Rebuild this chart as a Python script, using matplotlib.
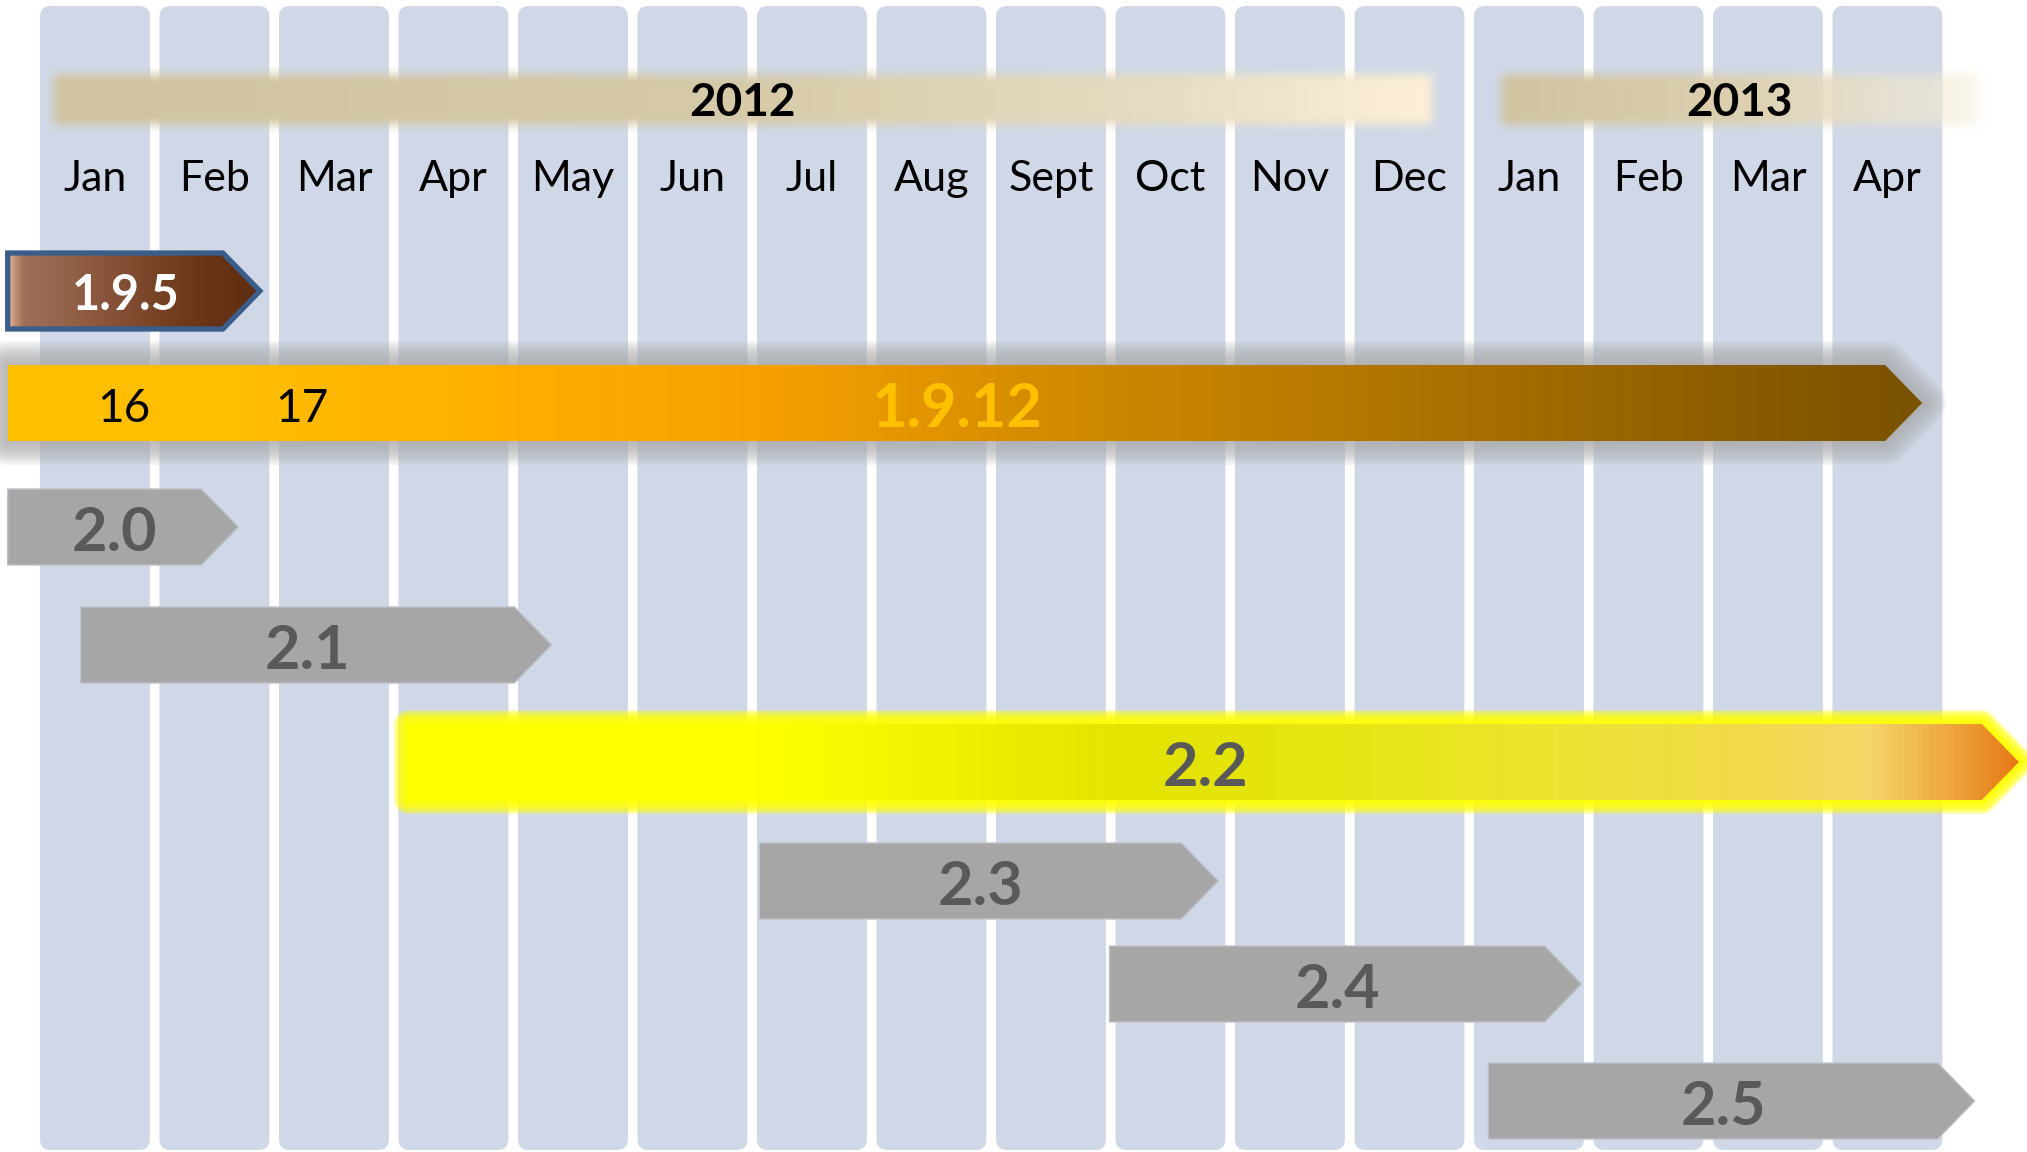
import numpy as np
import matplotlib.pyplot as plt
from matplotlib.patches import Polygon, FancyBboxPatch
from matplotlib.colors import LinearSegmentedColormap

plt.rcParams['font.family'] = ['Lato', 'DejaVu Sans']

# ---- data (x values in months, Jan 2012 column = 0..1) ----
months = ['Jan', 'Feb', 'Mar', 'Apr', 'May', 'Jun', 'Jul', 'Aug', 'Sept',
          'Oct', 'Nov', 'Dec', 'Jan', 'Feb', 'Mar', 'Apr']

years = ['2012', '2013']
year_start = [0.15, 12.27]
year_end = [11.69, 16.26]

releases = ['1.9.5', '1.9.12', '2.0', '2.1', '2.2', '2.3', '2.4', '2.5']
rel_start = [-0.23, -0.23, -0.23, 0.38, 3.12, 6.06, 8.99, 12.16]
rel_end = [1.88, 15.79, 1.70, 4.32, 16.60, 9.90, 12.94, 16.23]

minor_labels = ['16', '17']
minor_pos = [0.74, 2.23]

# ---- layout ----
W, H = 2027, 1152
PX = 119.5          # pixels per month
X0 = 35.2           # pixel of month 0
row_y = [291, 403, 527, 645, 762, 881, 984, 1101]
BAR_H = 76
TIP = 37 / PX
COL = '#d0d8e7'

gray = dict(stops=[(0, '#a6a6a6'), (1, '#a6a6a6')], text='#595959', fs=44)
styles = {
    '1.9.5': dict(stops=[(0, '#e2bea6'), (0.025, '#c49474'), (0.06, '#a2705a'),
                         (0.75, '#6a3618'), (1, '#5e2c10')],
                  text='white', fs=35, edge='#3b5d8a'),
    '1.9.12': dict(stops=[(0, '#ffc000'), (0.11, '#ffbf00'), (0.266, '#ffae00'),
                          (0.40, '#f5a000'), (0.536, '#d48c00'), (0.67, '#bc7c00'),
                          (0.806, '#a06a00'), (0.908, '#8a5c00'), (1, '#7a5200')],
                   text='#ffc000', fs=44, glow=('#a9a9a9', 24, 12, 0.11)),
    '2.2': dict(stops=[(0, '#ffff00'), (0.214, '#ffff00'), (0.446, '#e3e300'),
                       (0.606, '#e6e618'), (0.703, '#ece430'), (0.832, '#f2da4a'),
                       (0.909, '#f5d66a'), (0.957, '#eeaa40'), (1, '#e67a18')],
                text='#595959', fs=44, glow=('#ffff00', 14, 8, 0.3)),
}


def smooth(d, w):
    s = np.clip((d + w) / (2 * w), 0, 1)
    return s * s * (3 - 2 * s)


fig = plt.figure(figsize=(W / 100, H / 100), dpi=100)
ax = fig.add_axes([0, 0, 1, 1])
ax.axis('off')

# month columns
for i in range(len(months)):
    ax.add_patch(FancyBboxPatch((i + 0.04, 6), 0.92, 1144,
                                boxstyle='round,pad=0,rounding_size=0.09',
                                mutation_aspect=PX, facecolor=COL,
                                edgecolor='none', zorder=1))
    ax.text(i + 0.5, 191, months[i], ha='center', va='baseline',
            fontsize=31, color='black', zorder=3)


# soft-edged year bars
def soft_bar(x0, x1, yc, h, stops, fade, blur=10):
    nx, ny = 900, 70
    xs = np.linspace(x0 - blur / PX, x1 + blur / PX, nx)
    ys = np.linspace(yc - h / 2 - blur, yc + h / 2 + blur, ny)
    cmap = LinearSegmentedColormap.from_list('y', stops)
    t = np.clip((xs - x0) / (x1 - x0), 0, 1)
    rgba = np.zeros((ny, nx, 4))
    rgba[:, :, :3] = cmap(t)[None, :, :3]
    dx = np.minimum(xs - x0, x1 - xs) * PX
    dy = np.minimum(ys - (yc - h / 2), (yc + h / 2) - ys)
    a = smooth(dy, blur)[:, None] * smooth(dx, blur)[None, :]
    rgba[:, :, 3] = a * np.interp(t, fade[0], fade[1])[None, :]
    ax.imshow(rgba, extent=(xs[0], xs[-1], ys[-1], ys[0]), aspect='auto',
              zorder=2, interpolation='bilinear')


year_stops = [
    [(0, '#d0c3a0'), (0.5, '#d6caa8'), (0.8, '#e6dcc2'), (1, '#fdf0d6')],
    [(0, '#d0c3a0'), (0.5, '#dcd0b0'), (1, '#f6eed9')],
]
year_fade = [([0, 1], [1, 1]), ([0, 0.55, 1], [1, 1, 0.55])]
for k, name in enumerate(years):
    soft_bar(year_start[k], year_end[k], 100, 51, year_stops[k], year_fade[k])
    ax.text((year_start[k] + year_end[k]) / 2, 116, name, ha='center',
            va='baseline', fontsize=33, fontweight='bold', color='black', zorder=3)


def arrow_xy(x0, x1, yc):
    top, bot = yc - BAR_H / 2, yc + BAR_H / 2
    return np.array([[x0, top], [x1 - TIP, top], [x1, yc], [x1 - TIP, bot], [x0, bot]])


def gradient_fill(xy, stops, z):
    cmap = LinearSegmentedColormap.from_list('g', stops)
    grad = np.linspace(0, 1, 512).reshape(1, -1)
    im = ax.imshow(grad, cmap=cmap, aspect='auto', interpolation='bilinear',
                   extent=(xy[:, 0].min(), xy[:, 0].max(), xy[:, 1].max(), xy[:, 1].min()),
                   zorder=z)
    clip = Polygon(xy, closed=True, transform=ax.transData)
    im.set_clip_path(clip)


for k, name in enumerate(releases):
    st = styles.get(name, gray)
    yc = row_y[k]
    xy = arrow_xy(rel_start[k], rel_end[k], yc)
    if 'glow' in st:
        gc, gw, n, ga = st['glow']
        for j in range(n, 0, -1):
            ax.add_patch(Polygon(xy, closed=True, fill=False, edgecolor=gc,
                                 lw=2 * gw * j / n * 0.72, alpha=ga,
                                 joinstyle='round', zorder=4))
    if st is gray:
        ax.add_patch(Polygon(xy, closed=True, facecolor='#a6a6a6',
                             edgecolor='#bcc0c8', lw=1, zorder=5))
    else:
        gradient_fill(xy, st['stops'], 5)
    if 'edge' in st:
        ax.add_patch(Polygon(xy, closed=True, fill=False, edgecolor=st['edge'],
                             lw=3.8, joinstyle='miter', zorder=6))
    fs = st['fs']
    base = yc + 2 + 0.36 * fs * 100 / 72
    ax.text((rel_start[k] + rel_end[k]) / 2 - 0.07, base, name, ha='center',
            va='baseline', fontsize=fs, fontweight='bold', color=st['text'], zorder=7)

# minor release numbers on 1.9.x line
yc = row_y[releases.index('1.9.12')]
for lab, xp in zip(minor_labels, minor_pos):
    ax.text(xp, yc + 2 + 0.36 * 33 * 100 / 72, lab, ha='center', va='baseline',
            fontsize=33, color='black', zorder=7)

ax.set_xlim(-X0 / PX, (W - X0) / PX)
ax.set_ylim(H, 0)
fig.savefig('out.png', dpi=100, facecolor='white')
